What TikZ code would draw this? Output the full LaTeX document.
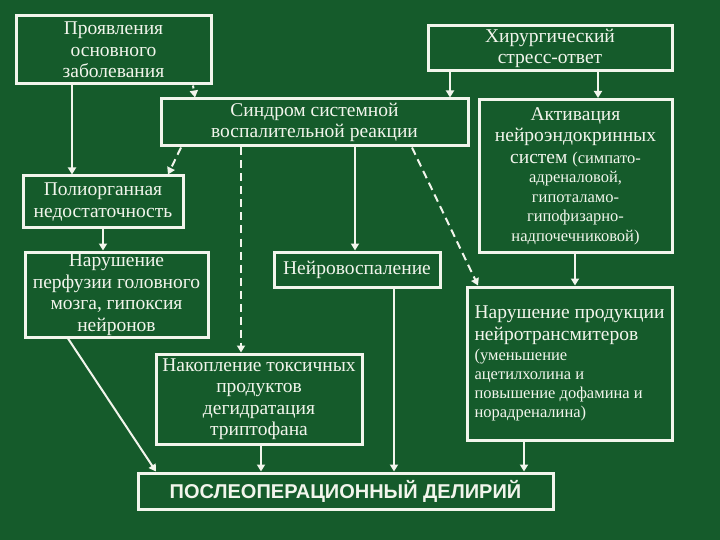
\documentclass[tikz,border=0pt]{standalone}
\usepackage{fontspec}
\setmainfont{Liberation Serif}
\setsansfont{Liberation Sans}
\usetikzlibrary{arrows.meta}
\definecolor{bg}{RGB}{21,91,43}
\definecolor{fg}{RGB}{242,245,236}
\tikzset{
  box/.style={draw=fg, line width=3pt, text=fg, align=center, inner sep=0pt,
    font=\fontsize{19.5}{21.5}\selectfont},
  arr/.style={draw=fg, line width=2pt, -{Triangle[length=7pt,width=8pt]}},
  dsh/.style={arr, dash pattern=on 8pt off 5pt},
  dot/.style={arr, dash pattern=on 3pt off 3pt},
}
\newcommand{\sm}{\fontsize{16.5}{19.5}\selectfont}
\begin{document}
\begin{tikzpicture}[x=1pt,y=-1pt]
\fill[bg] (0,0) rectangle (720,540);
\useasboundingbox (0,0) rectangle (720,540);

\node[box, minimum width=195pt, minimum height=68pt] (A) at (113.5,50) {Проявления\\основного\\заболевания};
\node[box, minimum width=244pt, minimum height=45pt] (B) at (550,48.5) {Хирургический\\стресс-ответ};
\node[box, minimum width=307pt, minimum height=47pt] (C) at (314.5,122.5) {Синдром системной\\воспалительной реакции};
\node[box, minimum width=193pt, minimum height=153pt] (D) at (575.5,176)
  {Активация\\нейроэндокринных\\систем \sm(симпато-\\[-2pt]\sm адреналовой,\\[-2pt]\sm гипоталамо-\\[-2pt]\sm гипофизарно-\\[-2pt]\sm надпочечниковой)};
\node[box, minimum width=160pt, minimum height=52pt] (E) at (103,202) {Полиорганная\\недостаточность};
\node[box, minimum width=183pt, minimum height=85pt] (F) at (116.5,294.5) {Нарушение\\перфузии головного\\мозга, гипоксия\\нейронов};
\node[box, minimum width=166pt, minimum height=35pt] (G) at (357,269.5) {Нейровоспаление};
\node[box, minimum width=205pt, minimum height=153pt, align=left] (H) at (569.5,363.5)
  {Нарушение продукции\\нейротрансмитеров\\[-1pt]\sm(уменьшение\\[-2.5pt]\sm ацетилхолина и\\[-2.5pt]\sm повышение дофамина и\\[-2.5pt]\sm норадреналина)};
\node[box, minimum width=206pt, minimum height=90pt] (I) at (259,399) {Накопление токсичных\\продуктов\\дегидратация\\триптофана};
\node[box, minimum width=415pt, minimum height=36pt, font=\sffamily\bfseries\fontsize{20}{22}\selectfont] (J) at (345.5,491) {ПОСЛЕОПЕРАЦИОННЫЙ ДЕЛИРИЙ};

\draw[arr] ([xshift=-41.5pt]A.south) -- ([xshift=-31pt]E.north);
\draw[dot] ([xshift=79.5pt]A.south) -- ([xshift=-119.5pt]C.north);
\draw[arr] ([xshift=-100pt]B.south) -- ([xshift=135.5pt]C.north);
\draw[arr] ([xshift=48pt]B.south) -- ([xshift=22.5pt]D.north);
\draw[dsh] ([xshift=-133.5pt]C.south) -- ([xshift=65pt]E.north);
\draw[dsh] ([xshift=-73.5pt]C.south) -- ([xshift=-18pt]I.north);
\draw[arr] ([xshift=40.5pt]C.south) -- ([xshift=-2pt]G.north);
\draw[dsh] ([xshift=97.5pt]C.south) -- ([xshift=-91.5pt]H.north);
\draw[arr] ([xshift=-0.5pt]D.south) -- ([xshift=5.5pt]H.north);
\draw[arr] ([xshift=0pt]E.south) -- ([xshift=-13.5pt]F.north);
\draw[arr] ([xshift=-48.5pt]F.south) -- ([xshift=-189.5pt]J.north);
\draw[arr] ([xshift=2pt]I.south) -- ([xshift=-84.5pt]J.north);
\draw[arr] ([xshift=37pt]G.south) -- ([xshift=48.5pt]J.north);
\draw[arr] ([xshift=-45.5pt]H.south) -- ([xshift=178.5pt]J.north);
\end{tikzpicture}
\end{document}
